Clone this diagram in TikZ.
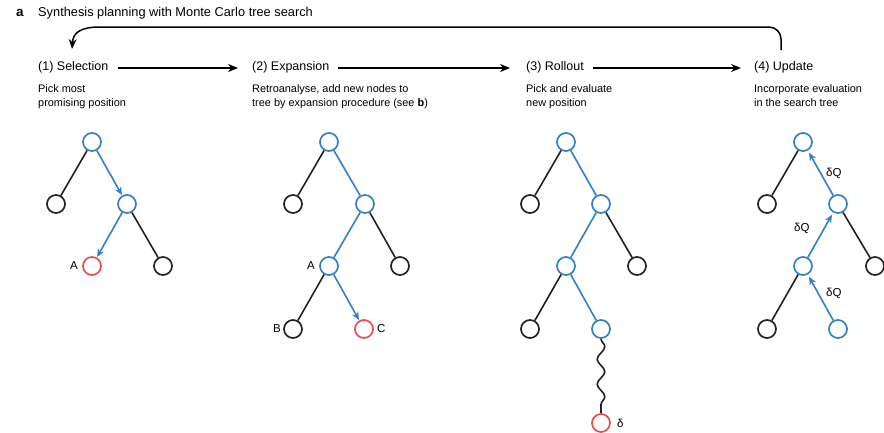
\documentclass[tikz,border=0pt]{standalone}
\usepackage{fontspec}
\setmainfont{Liberation Sans}
\usetikzlibrary{arrows.meta,decorations.pathmorphing}
\definecolor{tblue}{HTML}{2F80C8}
\definecolor{tred}{HTML}{E84A4F}
\definecolor{tblack}{HTML}{222222}
\begin{document}
\begin{tikzpicture}[x=1pt,y=-1pt,
 nd/.style={circle,draw=tblack,line width=1.7pt,minimum size=18pt,inner sep=0pt},
 bnd/.style={nd,draw=tblue},
 rnd/.style={nd,draw=tred},
 edge/.style={tblack,line width=1.6pt},
 bedge/.style={tblue,line width=1.6pt},
 barrow/.style={bedge,-{Stealth[length=8pt,width=7pt]},shorten >=0.5pt},
 uarrow/.style={bedge,-{Stealth[length=8pt,width=7pt]},shorten >=2.5pt},
 steplabel/.style={anchor=west,inner sep=0pt,font=\fontsize{12.5}{14}\selectfont},
 desc/.style={anchor=north west,inner sep=0pt,align=left,font=\fontsize{10.9}{14}\selectfont},
 mainarrow/.style={line width=1.5pt,-{Stealth[length=10pt,width=8pt]}},
 lbl/.style={font=\fontsize{11.5}{13}\selectfont,inner sep=0pt}
]
\useasboundingbox (0,0) rectangle (884,432);

% header
\node[anchor=west,inner sep=0pt,font=\bfseries\fontsize{13.5}{14}\selectfont] (pa) at (16,13) {a};
\node[anchor=west,inner sep=0pt,font=\fontsize{12.8}{14}\selectfont] (title) at (38,13) {Synthesis planning with Monte Carlo tree search};

% step labels
\node[steplabel] (s1) at (38,67) {(1) Selection};
\node[steplabel] (s2) at (252,67) {(2) Expansion};
\node[steplabel] (s3) at (526,67) {(3) Rollout};
\node[steplabel] (s4) at (754,67) {(4) Update};

\draw[mainarrow] ([xshift=9pt,yshift=-1pt]s1.east) -- ([xshift=-14pt,yshift=-1pt]s2.west);
\draw[mainarrow] ([xshift=8pt,yshift=-1pt]s2.east) -- ([xshift=-16pt,yshift=-1pt]s3.west);
\draw[mainarrow] ([xshift=9pt,yshift=-1pt]s3.east) -- ([xshift=-13pt,yshift=-1pt]s4.west);

\coordinate (fbs) at (781,50);
\coordinate (fbe) at (72,49);
\draw[line width=1.5pt,rounded corners=12pt] (fbs) -- (781,27) -- (100,27);
\draw[line width=1.5pt,-{Stealth[length=10pt,width=8pt]}] (100,27) .. controls (80,27) and (73,33) .. (fbe);

% descriptions
\node[desc] (d1) at (38,84) {Pick most\\promising position};
\node[desc] (d2) at (252,84) {Retroanalyse, add new nodes to\\tree by expansion procedure (see \textbf{b})};
\node[desc] (d3) at (526,84) {Pick and evaluate\\new position};
\node[desc] (d4) at (754,84) {Incorporate evaluation\\in the search tree};

% tree 1
\node[bnd] (t1r) at (92,142) {};
\node[nd] (t1a) at (56,204) {};
\node[bnd] (t1b) at (127,204) {};
\node[rnd] (t1c) at (92,266) {};
\node[nd] (t1d) at (163,266) {};
\draw[edge] (t1r) -- (t1a);
\draw[barrow] (t1r) -- (t1b);
\draw[edge] (t1b) -- (t1d);
\draw[barrow] (t1b) -- (t1c);
\node[lbl,anchor=east] (t1A) at (78,266) {A};

% tree 2
\node[bnd] (t2r) at (329,142) {};
\node[nd] (t2a) at (293,204) {};
\node[bnd] (t2b) at (365,204) {};
\node[bnd] (t2c) at (329,266) {};
\node[nd] (t2d) at (400,266) {};
\node[nd] (t2e) at (293,329) {};
\node[rnd] (t2f) at (364,329) {};
\draw[edge] (t2r) -- (t2a);
\draw[bedge] (t2r) -- (t2b);
\draw[edge] (t2b) -- (t2d);
\draw[bedge] (t2b) -- (t2c);
\draw[edge] (t2c) -- (t2e);
\draw[barrow] (t2c) -- (t2f);
\node[lbl,anchor=east] (t2A) at (315,266) {A};
\node[lbl,anchor=east] (t2B) at (281,329) {B};
\node[lbl,anchor=west] (t2C) at (377,329) {C};

% tree 3
\node[bnd] (t3r) at (566,142) {};
\node[nd] (t3a) at (530,204) {};
\node[bnd] (t3b) at (601,204) {};
\node[bnd] (t3c) at (566,266) {};
\node[nd] (t3d) at (637,266) {};
\node[nd] (t3e) at (530,329) {};
\node[bnd] (t3f) at (601,329) {};
\node[rnd] (t3g) at (601,423) {};
\draw[edge,decorate,decoration={snake,segment length=25pt,amplitude=3.8pt}] (t3f) -- (t3g);
\draw[edge] (t3r) -- (t3a);
\draw[bedge] (t3r) -- (t3b);
\draw[edge] (t3b) -- (t3d);
\draw[bedge] (t3b) -- (t3c);
\draw[edge] (t3c) -- (t3e);
\draw[bedge] (t3c) -- (t3f);
\node[lbl,anchor=west] (t3D) at (617,423) {δ};

% tree 4
\node[bnd] (t4r) at (803,142) {};
\node[nd] (t4a) at (767,204) {};
\node[bnd] (t4b) at (838,204) {};
\node[bnd] (t4c) at (803,266) {};
\node[nd] (t4d) at (875,266) {};
\node[nd] (t4e) at (767,329) {};
\node[bnd] (t4f) at (838,329) {};
\draw[edge] (t4r) -- (t4a);
\draw[uarrow] (t4b) -- (t4r);
\draw[edge] (t4b) -- (t4d);
\draw[uarrow] (t4c) -- (t4b);
\draw[edge] (t4c) -- (t4e);
\draw[uarrow] (t4f) -- (t4c);
\node[lbl,anchor=west] (t4q1) at (826,173) {δQ};
\node[lbl,anchor=west] (t4q2) at (794,228) {δQ};
\node[lbl,anchor=west] (t4q3) at (826,293) {δQ};
\end{tikzpicture}
\end{document}
